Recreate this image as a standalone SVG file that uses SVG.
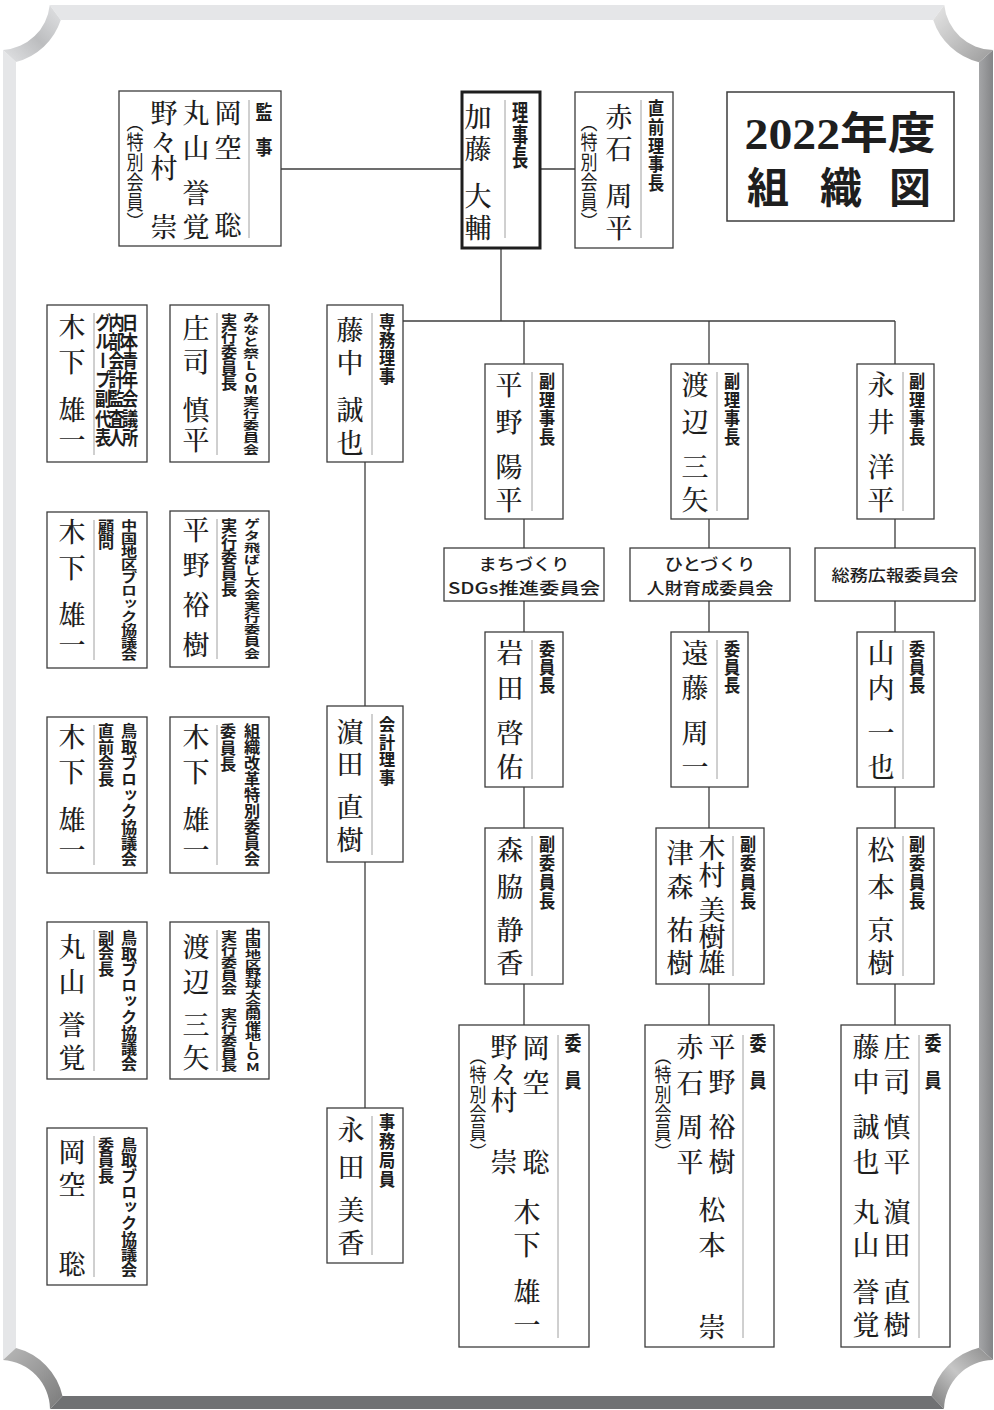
<svg xmlns="http://www.w3.org/2000/svg" width="994" height="1410" viewBox="0 0 994 1410">
<defs>
<linearGradient id="gTL" x1="0" y1="1" x2="1" y2="0"><stop offset="0" stop-color="#e2e3e5"/><stop offset="0.5" stop-color="#bcbdbf"/><stop offset="1" stop-color="#e2e3e5"/></linearGradient>
<linearGradient id="gTR" x1="0" y1="0" x2="1" y2="1"><stop offset="0" stop-color="#e6e6e6"/><stop offset="0.5" stop-color="#c2c2c2"/><stop offset="1" stop-color="#9a9a9a"/></linearGradient>
<linearGradient id="gBL" x1="0" y1="0" x2="1" y2="1"><stop offset="0" stop-color="#b8b8b8"/><stop offset="0.5" stop-color="#9a9a9a"/><stop offset="1" stop-color="#7a7a7a"/></linearGradient>
<linearGradient id="gBR" x1="0" y1="1" x2="1" y2="0"><stop offset="0" stop-color="#7a7a7a"/><stop offset="0.5" stop-color="#c6c6c6"/><stop offset="1" stop-color="#8a8a8a"/></linearGradient>
<linearGradient id="gR" x1="0" y1="0" x2="1" y2="0"><stop offset="0" stop-color="#a4a5a7"/><stop offset="1" stop-color="#848587"/></linearGradient>
</defs>
<style>
.box{fill:#fff;stroke:#3c3c3c;stroke-width:1.3}
.thick{fill:#fff;stroke:#1e1e1e;stroke-width:3}
.sep{stroke:#a0a0a0;stroke-width:1}
.con{stroke:#3c3c3c;stroke-width:1.3;fill:none}
text{font-family:"Noto Sans CJK JP","Noto Sans CJK SC",sans-serif;fill:#1e1e1e}
.v{writing-mode:vertical-rl;text-orientation:upright}
.nm{font-family:"Noto Serif CJK JP","Noto Sans CJK JP",serif;font-size:27px;font-weight:500;text-anchor:middle}
.lb{font-weight:700;font-size:19px}
.lbm{font-weight:700;font-size:20px;text-anchor:middle}
.sp{font-size:17px}
.cm{font-size:16px;font-weight:500;text-anchor:middle}
.tt{font-family:"Liberation Serif","Noto Sans CJK JP",serif;font-weight:700;text-anchor:middle}
</style>
<rect width="994" height="1410" fill="#fff"/>
<g id="frame">
<path d="M49.75,5 L944.25,5 L933.21,20 L60.79,20 Z" fill="#e5e6e8"/>
<path d="M3,49.91 L16,61.97 L16,1348.03 L3,1360.09 Z" fill="#e5e6e8"/>
<path d="M993,49.99 L993,1360.01 L979,1347.78 L979,62.22 Z" fill="url(#gR)"/>
<path d="M62.45,1396 L931.55,1396 L944.01,1409 L49.99,1409 Z" fill="#707173"/>
<path d="M49.75,5 A50,50 0 0 1 3,49.91 L16,61.97 A64,64 0 0 0 60.79,20 Z" fill="url(#gTL)"/>
<path d="M944.25,5 A50,50 0 0 0 993,49.99 L979,62.22 A64,64 0 0 1 933.21,20 Z" fill="url(#gTR)"/>
<path d="M49.99,1409 A50,50 0 0 0 3,1360.09 L16,1348.03 A64,64 0 0 1 62.45,1396 Z" fill="url(#gBL)"/>
<path d="M944.01,1409 A50,50 0 0 1 993,1360.01 L979,1347.78 A64,64 0 0 0 931.55,1396 Z" fill="url(#gBR)"/>
</g>
<g id="connectors" class="con">
<line x1="281" y1="169" x2="462" y2="169"/>
<line x1="540" y1="169" x2="575" y2="169"/>
<line x1="501" y1="249" x2="501" y2="321"/>
<line x1="403" y1="321" x2="895" y2="321"/>
<line x1="524" y1="321" x2="524" y2="364"/>
<line x1="709" y1="321" x2="709" y2="364"/>
<line x1="895" y1="321" x2="895" y2="364"/>
<line x1="365" y1="462" x2="365" y2="706"/>
<line x1="365" y1="862" x2="365" y2="1108"/>
<path d="M524,519V548M524,601V632M524,787V828M524,984V1025"/>
<path d="M709,519V548M709,601V632M709,787V828M709,984V1025"/>
<path d="M895,519V548M895,601V632M895,787V828M895,984V1025"/>
</g>
<g id="title">
<rect x="727" y="92" width="227" height="129" fill="#fff" stroke="#3c3c3c" stroke-width="1.5"/>
<text class="tt" x="840" y="149" font-size="44" textLength="191" lengthAdjust="spacingAndGlyphs">2022年度</text>
<text class="tt" x="768 804 841 876 910" y="203" font-size="42">組 織 図</text>
</g>
<g id="kanji">
<rect class="box" x="119" y="91" width="162" height="155"/>
<line class="sep" x1="249" y1="100" x2="249" y2="238"/>
<text class="v lbm" transform="translate(264 0) scale(.85 1)" y="112 130 147">監 事</text>
<text class="v nm" x="228" y="113 148 186 225">岡空 聡</text>
<text class="v nm" x="196" y="113 148 170 193 227">丸山 誉覚</text>
<text class="v nm" x="164" y="113 142 168 198 227">野々村 崇</text>
<text class="v sp" x="135" y="112" textLength="120" lengthAdjust="spacingAndGlyphs">（特別会員）</text>
</g>
<g id="rijicho">
<rect class="thick" x="462" y="92" width="78" height="156"/>
<line class="sep" x1="505" y1="100" x2="505" y2="238"/>
<text class="v lb" transform="translate(520 0) scale(.85 1)" y="101" font-size="21" textLength="68" lengthAdjust="spacingAndGlyphs">理事長</text>
<text class="v nm" x="478" y="117 149 172 196 228">加藤 大輔</text>
</g>
<g id="chokuzen">
<rect class="box" x="575" y="92" width="98" height="156"/>
<line class="sep" x1="641" y1="100" x2="641" y2="238"/>
<text class="v lb" transform="translate(656 0) scale(.85 1)" y="99" textLength="93" lengthAdjust="spacingAndGlyphs">直前理事長</text>
<text class="v nm" x="619" y="117 149 172 196 228">赤石 周平</text>
<text class="v sp" x="589" y="112" textLength="120" lengthAdjust="spacingAndGlyphs">（特別会員）</text>
</g>
<g id="senmu">
<rect class="box" x="327" y="305" width="76" height="157"/>
<line class="sep" x1="372" y1="313" x2="372" y2="455"/>
<text class="v lb" transform="translate(387 0) scale(.85 1)" y="313" textLength="72" lengthAdjust="spacingAndGlyphs">専務理事</text>
<text class="v nm" x="350" y="330 363 386 410 443">藤中 誠也</text>
</g>
<g id="kaikei">
<rect class="box" x="327" y="706" width="76" height="156"/>
<line class="sep" x1="372" y1="714" x2="372" y2="855"/>
<text class="v lb" transform="translate(387 0) scale(.85 1)" y="716" textLength="70" lengthAdjust="spacingAndGlyphs">会計理事</text>
<text class="v nm" x="350" y="732 764 786 807 840">濵田 直樹</text>
</g>
<g id="jimukyoku">
<rect class="box" x="327" y="1108" width="76" height="155"/>
<line class="sep" x1="372" y1="1116" x2="372" y2="1255"/>
<text class="v lb" transform="translate(387 0) scale(.85 1)" y="1113" textLength="75" lengthAdjust="spacingAndGlyphs">事務局員</text>
<text class="v nm" x="351" y="1130 1167 1190 1210 1243">永田 美香</text>
</g>
<g id="fuku1">
<rect class="box" x="485" y="364" width="78" height="155"/>
<line class="sep" x1="532" y1="372" x2="532" y2="511"/>
<text class="v lb" transform="translate(547 0) scale(.85 1)" y="372" textLength="74" lengthAdjust="spacingAndGlyphs">副理事長</text>
<text class="v nm" x="509" y="385 422 445 467 500">平野 陽平</text>
</g>
<g id="fuku2">
<rect class="box" x="671" y="364" width="77" height="155"/>
<line class="sep" x1="717" y1="372" x2="717" y2="511"/>
<text class="v lb" transform="translate(732 0) scale(.85 1)" y="372" textLength="74" lengthAdjust="spacingAndGlyphs">副理事長</text>
<text class="v nm" x="695" y="385 422 445 467 500">渡辺 三矢</text>
</g>
<g id="fuku3">
<rect class="box" x="857" y="364" width="77" height="155"/>
<line class="sep" x1="903" y1="372" x2="903" y2="511"/>
<text class="v lb" transform="translate(917 0) scale(.85 1)" y="372" textLength="74" lengthAdjust="spacingAndGlyphs">副理事長</text>
<text class="v nm" x="881" y="385 422 445 467 500">永井 洋平</text>
</g>
<g id="iinkai1">
<rect class="box" x="444" y="548" width="160" height="53"/>
<text class="cm" x="524" y="570" textLength="91" lengthAdjust="spacingAndGlyphs">まちづくり</text>
<text class="cm" x="524" y="594" textLength="152" lengthAdjust="spacingAndGlyphs">SDGs推進委員会</text>
</g>
<g id="iinkai2">
<rect class="box" x="630" y="548" width="160" height="53"/>
<text class="cm" x="710" y="570" textLength="91" lengthAdjust="spacingAndGlyphs">ひとづくり</text>
<text class="cm" x="710" y="594" textLength="127" lengthAdjust="spacingAndGlyphs">人財育成委員会</text>
</g>
<g id="iinkai3">
<rect class="box" x="815" y="548" width="160" height="53"/>
<text class="cm" x="895" y="581" textLength="127" lengthAdjust="spacingAndGlyphs">総務広報委員会</text>
</g>
<g id="chair1">
<rect class="box" x="485" y="632" width="78" height="155"/>
<line class="sep" x1="532" y1="640" x2="532" y2="779"/>
<text class="v lb" transform="translate(547 0) scale(.85 1)" y="640" font-size="18" textLength="54" lengthAdjust="spacingAndGlyphs">委員長</text>
<text class="v nm" x="510" y="653 688 711 733 767">岩田 啓佑</text>
</g>
<g id="chair2">
<rect class="box" x="671" y="632" width="77" height="155"/>
<line class="sep" x1="717" y1="640" x2="717" y2="779"/>
<text class="v lb" transform="translate(732 0) scale(.85 1)" y="640" font-size="18" textLength="54" lengthAdjust="spacingAndGlyphs">委員長</text>
<text class="v nm" x="695" y="653 688 711 733 767">遠藤 周一</text>
</g>
<g id="chair3">
<rect class="box" x="857" y="632" width="77" height="155"/>
<line class="sep" x1="903" y1="640" x2="903" y2="779"/>
<text class="v lb" transform="translate(917 0) scale(.85 1)" y="640" font-size="18" textLength="54" lengthAdjust="spacingAndGlyphs">委員長</text>
<text class="v nm" x="881" y="653 688 711 733 767">山内 一也</text>
</g>
<g id="vice1">
<rect class="box" x="485" y="828" width="78" height="156"/>
<line class="sep" x1="532" y1="836" x2="532" y2="976"/>
<text class="v lb" transform="translate(547 0) scale(.85 1)" y="835" textLength="75" lengthAdjust="spacingAndGlyphs">副委員長</text>
<text class="v nm" x="510" y="850 887 909 930 963">森脇 静香</text>
</g>
<g id="vice2">
<rect class="box" x="656" y="828" width="108" height="156"/>
<line class="sep" x1="733" y1="836" x2="733" y2="976"/>
<text class="v lb" transform="translate(748 0) scale(.85 1)" y="835" textLength="75" lengthAdjust="spacingAndGlyphs">副委員長</text>
<text class="v nm" x="712" y="848 875 893 910 937 963" font-size="26">木村 美樹雄</text>
<text class="v nm" x="680" y="853 887 909 930 963">津森 祐樹</text>
</g>
<g id="vice3">
<rect class="box" x="857" y="828" width="77" height="156"/>
<line class="sep" x1="903" y1="836" x2="903" y2="976"/>
<text class="v lb" transform="translate(917 0) scale(.85 1)" y="835" textLength="75" lengthAdjust="spacingAndGlyphs">副委員長</text>
<text class="v nm" x="881" y="850 887 909 930 963">松本 京樹</text>
</g>
<g id="members1">
<rect class="box" x="459" y="1025" width="130" height="322"/>
<line class="sep" x1="558" y1="1035" x2="558" y2="1338"/>
<text class="v lbm" transform="translate(573 0) scale(.85 1)" y="1043 1061 1080">委 員</text>
<text class="v nm" x="536" y="1048 1083 1120 1162">岡空 聡</text>
<text class="v nm" x="527" y="1212 1245 1268 1292 1325">木下 雄一</text>
<text class="v nm" x="504" y="1047 1074 1100 1130 1162">野々村 崇</text>
<text class="v sp" x="478" y="1046" textLength="116" lengthAdjust="spacingAndGlyphs">（特別会員）</text>
</g>
<g id="members2">
<rect class="box" x="645" y="1025" width="129" height="322"/>
<line class="sep" x1="743" y1="1035" x2="743" y2="1338"/>
<text class="v lbm" transform="translate(758 0) scale(.85 1)" y="1043 1061 1080">委 員</text>
<text class="v nm" x="722" y="1047 1082 1105 1127 1162">平野 裕樹</text>
<text class="v nm" x="690" y="1047 1083 1105 1127 1162">赤石 周平</text>
<text class="v sp" x="663" y="1046" textLength="116" lengthAdjust="spacingAndGlyphs">（特別会員）</text>
<text class="v nm" x="712" y="1210 1245 1290 1327">松本 崇</text>
</g>
<g id="members3">
<rect class="box" x="841" y="1025" width="109" height="322"/>
<line class="sep" x1="919" y1="1035" x2="919" y2="1338"/>
<text class="v lbm" transform="translate(933 0) scale(.85 1)" y="1043 1061 1080">委 員</text>
<text class="v nm" x="897" y="1047 1082 1105 1127 1162">庄司 慎平</text>
<text class="v nm" x="866" y="1047 1082 1105 1127 1162">藤中 誠也</text>
<text class="v nm" x="897" y="1212 1245 1268 1292 1325">濵田 直樹</text>
<text class="v nm" x="866" y="1212 1245 1268 1292 1325">丸山 誉覚</text>
</g>
<g id="left1a">
<rect class="box" x="47" y="305" width="100" height="157"/>
<line class="sep" x1="94" y1="313" x2="94" y2="455"/>
<text class="v lb" transform="translate(130 0) scale(.85 1)" y="313" font-size="15" textLength="134" lengthAdjust="spacingAndGlyphs">日本青年会議所</text>
<text class="v lb" transform="translate(116.5 0) scale(.85 1)" y="313" font-size="15" textLength="134" lengthAdjust="spacingAndGlyphs">内部会計監査人</text>
<text class="v lb" transform="translate(103 0) scale(.85 1)" y="313" font-size="15" textLength="134" lengthAdjust="spacingAndGlyphs">グループ副代表</text>
<text class="v nm" x="72" y="327 362 386 410 440">木下 雄一</text>
</g>
<g id="left1b">
<rect class="box" x="170" y="305" width="99" height="157"/>
<line class="sep" x1="217" y1="313" x2="217" y2="455"/>
<text class="v lb" transform="translate(251 0) scale(.85 1)" y="312" font-size="15" textLength="143" lengthAdjust="spacingAndGlyphs">みなと祭LOM実行委員会</text>
<text class="v lb" transform="translate(229 0) scale(.85 1)" y="313" font-size="16" textLength="78" lengthAdjust="spacingAndGlyphs">実行委員長</text>
<text class="v nm" x="196" y="328 362 386 410 440">庄司 慎平</text>
</g>
<g id="left2a">
<rect class="box" x="47" y="512" width="100" height="156"/>
<line class="sep" x1="94" y1="520" x2="94" y2="660"/>
<text class="v lb" transform="translate(129 0) scale(.85 1)" y="519" font-size="16" textLength="142" lengthAdjust="spacingAndGlyphs">中国地区ブロック協議会</text>
<text class="v lb" transform="translate(106 0) scale(.85 1)" y="519" font-size="16" textLength="31" lengthAdjust="spacingAndGlyphs">顧問</text>
<text class="v nm" x="72" y="532 568 591 615 645">木下 雄一</text>
</g>
<g id="left2b">
<rect class="box" x="170" y="511" width="99" height="156"/>
<line class="sep" x1="217" y1="519" x2="217" y2="659"/>
<text class="v lb" transform="translate(252 0) scale(.85 1)" y="518" font-size="15" textLength="141" lengthAdjust="spacingAndGlyphs">ゲタ飛ばし大会実行委員会</text>
<text class="v lb" transform="translate(229 0) scale(.85 1)" y="518" font-size="16" textLength="79" lengthAdjust="spacingAndGlyphs">実行委員長</text>
<text class="v nm" x="196" y="530 565 585 605 645">平野 裕樹</text>
</g>
<g id="left3a">
<rect class="box" x="47" y="717" width="100" height="156"/>
<line class="sep" x1="94" y1="725" x2="94" y2="865"/>
<text class="v lb" transform="translate(129 0) scale(.85 1)" y="723" font-size="16" textLength="144" lengthAdjust="spacingAndGlyphs">鳥取ブロック協議会</text>
<text class="v lb" transform="translate(106 0) scale(.85 1)" y="723" font-size="16" textLength="64" lengthAdjust="spacingAndGlyphs">直前会長</text>
<text class="v nm" x="72" y="737 772 796 820 850">木下 雄一</text>
</g>
<g id="left3b">
<rect class="box" x="170" y="717" width="99" height="156"/>
<line class="sep" x1="217" y1="725" x2="217" y2="865"/>
<text class="v lb" transform="translate(252 0) scale(.85 1)" y="723" font-size="16" textLength="144" lengthAdjust="spacingAndGlyphs">組織改革特別委員会</text>
<text class="v lb" transform="translate(228 0) scale(.85 1)" y="723" font-size="16" textLength="49" lengthAdjust="spacingAndGlyphs">委員長</text>
<text class="v nm" x="196" y="737 772 796 820 850">木下 雄一</text>
</g>
<g id="left4a">
<rect class="box" x="47" y="922" width="100" height="157"/>
<line class="sep" x1="94" y1="930" x2="94" y2="1071"/>
<text class="v lb" transform="translate(129 0) scale(.85 1)" y="930" font-size="16" textLength="142" lengthAdjust="spacingAndGlyphs">鳥取ブロック協議会</text>
<text class="v lb" transform="translate(106 0) scale(.85 1)" y="930" font-size="16" textLength="47" lengthAdjust="spacingAndGlyphs">副会長</text>
<text class="v nm" x="72" y="947 982 1004 1025 1058">丸山 誉覚</text>
</g>
<g id="left4b">
<rect class="box" x="170" y="922" width="99" height="157"/>
<line class="sep" x1="217" y1="930" x2="217" y2="1071"/>
<text class="v lb" transform="translate(253 0) scale(.85 1)" y="928" font-size="15" textLength="144" lengthAdjust="spacingAndGlyphs">中国地区野球大会開催地LOM</text>
<text class="v lb" transform="translate(229 0) scale(.85 1)" y="930" font-size="15" textLength="142" lengthAdjust="spacingAndGlyphs">実行委員会　実行委員長</text>
<text class="v nm" x="196" y="947 982 1004 1025 1058">渡辺 三矢</text>
</g>
<g id="left5a">
<rect class="box" x="47" y="1128" width="100" height="157"/>
<line class="sep" x1="94" y1="1136" x2="94" y2="1277"/>
<text class="v lb" transform="translate(129 0) scale(.85 1)" y="1137" font-size="16" textLength="141" lengthAdjust="spacingAndGlyphs">鳥取ブロック協議会</text>
<text class="v lb" transform="translate(106 0) scale(.85 1)" y="1137" font-size="16" textLength="47" lengthAdjust="spacingAndGlyphs">委員長</text>
<text class="v nm" x="72" y="1152 1185 1225 1264">岡空 聡</text>
</g>
</svg>
